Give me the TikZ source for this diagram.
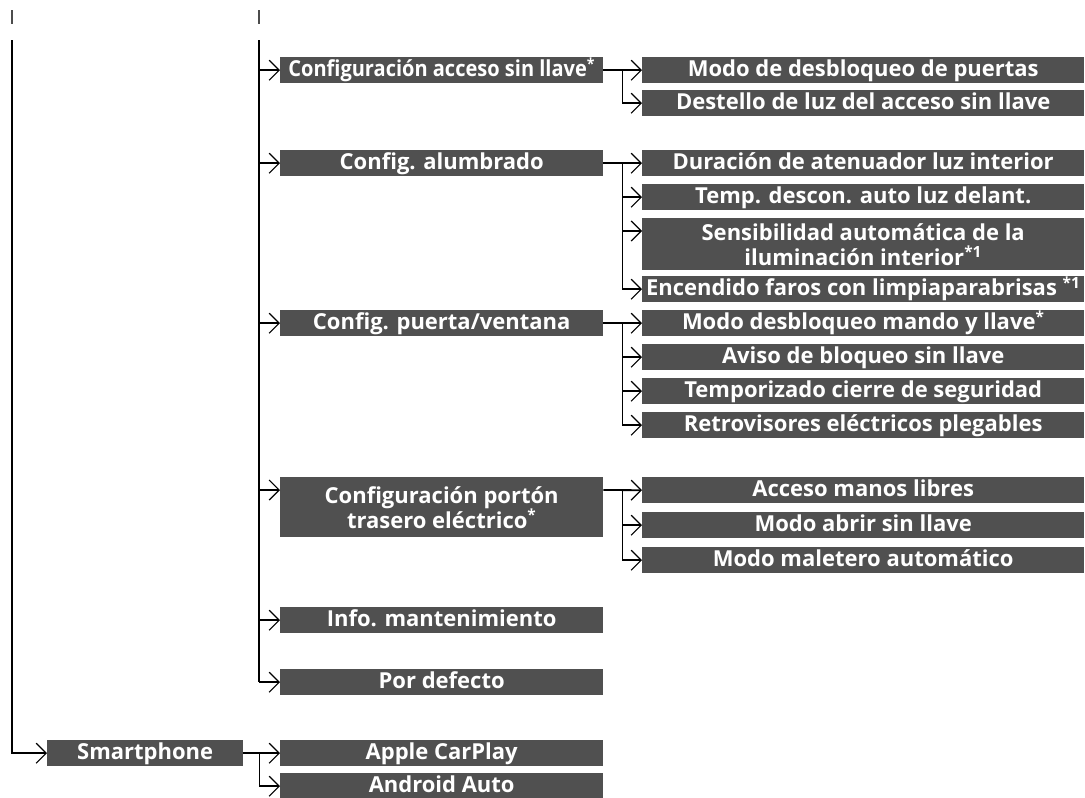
\documentclass[tikz,border=0pt]{standalone}
\usepackage{fontspec}
\setmainfont{Open Sans}
\usetikzlibrary{arrows.meta,calc}
\definecolor{boxgray}{RGB}{80,80,80}
\tikzset{
  box/.style={fill=boxgray, text=white, font=\bfseries\fontsize{22}{25}\selectfont,
    inner sep=0pt, align=center, anchor=north west, minimum height=26pt},
  one/.style={text height=19.5pt, text depth=6.5pt},
  lvtwo/.style={box, minimum width=323pt},
  lvthree/.style={box, minimum width=442pt},
  link/.style={line width=1.8pt},
  arr/.style={line width=1.8pt, -{Straight Barb[length=10pt,width=20pt,line width=1.2pt]}},
  tick/.style={line width=1.5pt, black!70}
}
\begin{document}
\begin{tikzpicture}[x=1pt,y=-1pt]
\useasboundingbox (0,0) rectangle (1085,798);
% top ticks
\coordinate (tkA) at (12,10);
\coordinate (tkB) at (259,10);
\draw[tick] (tkA) -- ++(0,14);
\draw[tick] (tkB) -- ++(0,14);
\coordinate (topA) at (12,40);
\coordinate (topB) at (259,40);
% level 2 boxes
\node[lvtwo, one] (acc) at (280,57) {\scalebox{0.91}[1]{Configuración acceso sin llave\textsuperscript{*}}};
\node[lvtwo, one] (alu) at (280,150) {Config. alumbrado};
\node[lvtwo, one] (pue) at (280,310) {Config. puerta/ventana};
\node[lvtwo, minimum height=60pt] (por) at (280,477) {Configuración portón\\trasero eléctrico\textsuperscript{*}};
\node[lvtwo, one] (inf) at (280,607) {Info. mantenimiento};
\node[lvtwo, one] (def) at (280,669) {Por defecto};
\node[box, one, minimum width=196pt] (sma) at (47,740) {Smartphone};
\node[lvtwo, one] (app) at (280,740) {Apple CarPlay};
\node[lvtwo, one] (and) at (280,773) {Android Auto};
% level 3 boxes
\node[lvthree, one] (k1) at (642,57) {Modo de desbloqueo de puertas};
\node[lvthree, one] (k2) at (642,90) {Destello de luz del acceso sin llave};
\node[lvthree, one] (l1) at (642,150) {Duración de atenuador luz interior};
\node[lvthree, one] (l2) at (642,184) {Temp. descon. auto luz delant.};
\node[lvthree, minimum height=52pt] (l3) at (642,218) {Sensibilidad automática de la\\iluminación interior\textsuperscript{*1}};
\node[lvthree, one] (l4) at (642,276) {Encendido faros con limpiaparabrisas \textsuperscript{*1}};
\node[lvthree, one] (p1) at (642,310) {Modo desbloqueo mando y llave\textsuperscript{*}};
\node[lvthree, one] (p2) at (642,344) {Aviso de bloqueo sin llave};
\node[lvthree, one] (p3) at (642,378) {Temporizado cierre de seguridad};
\node[lvthree, one] (p4) at (642,412) {Retrovisores eléctricos plegables};
\node[lvthree, one] (t1) at (642,477) {Acceso manos libres};
\node[lvthree, one] (t2) at (642,512) {Modo abrir sin llave};
\node[lvthree, one] (t3) at (642,547) {Modo maletero automático};
% main vertical lines
\draw[arr] (topA) |- (sma.west);
\draw[link] (topB) -- (topB |- def.west);
\foreach \n in {acc,alu,pue,inf,def} \draw[arr] (topB |- \n.west) -- (\n.west);
\draw[arr] (topB |- {$(por.north west)+(0,13)$}) -- ($(por.north west)+(0,13)$);
% branches: acceso
\coordinate (bk) at ($(acc.east)+(19,0)$);
\draw[arr] (acc.east) -- (k1.west);
\draw[arr] (bk) |- (k2.west);
% alumbrado
\coordinate (bl) at ($(alu.east)+(19,0)$);
\draw[arr] (alu.east) -- (l1.west);
\draw[arr] (bl) |- (l2.west);
\draw[arr] (bl) |- ($(l3.north west)+(0,13)$);
\draw[arr] (bl) |- (l4.west);
% puerta
\coordinate (bp) at ($(pue.east)+(19,0)$);
\draw[arr] (pue.east) -- (p1.west);
\draw[arr] (bp) |- (p2.west);
\draw[arr] (bp) |- (p3.west);
\draw[arr] (bp) |- (p4.west);
% porton
\coordinate (bt) at ($(por.north east)+(19,13)$);
\draw[arr] ($(por.north east)+(0,13)$) -- (t1.west);
\draw[arr] (bt) |- (t2.west);
\draw[arr] (bt) |- (t3.west);
% smartphone
\coordinate (bs) at ($(sma.east)+(16,0)$);
\draw[arr] (sma.east) -- (app.west);
\draw[arr] (bs) |- (and.west);
\end{tikzpicture}
\end{document}
